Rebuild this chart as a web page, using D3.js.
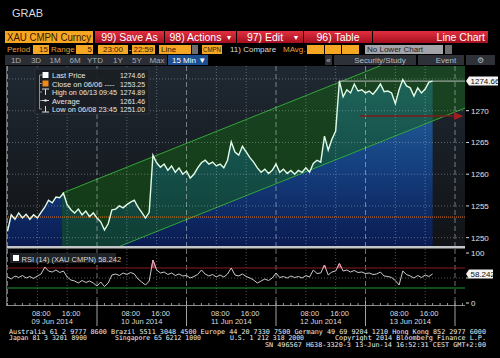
<!DOCTYPE html>
<html>
<head>
<meta charset="utf-8">
<script src="https://cdn.jsdelivr.net/npm/d3@7/dist/d3.min.js"></script>
<style>
  body { margin: 0; background: #000; overflow: hidden; }
  svg { display: block; font-family: "Liberation Sans", Arial, sans-serif; }
  .mono { font-family: "DejaVu Sans Mono", monospace; }
</style>
</head>
<body>
<script>
/***** Données *****/
// un point par heure à partir du 9 juin 00:00
const startTime = new Date(2014, 5, 9, 0, 0);
const prices = [
  1251.0, 1253.6, 1252.9, 1253.9, 1253.1, 1253.7, 1252.9, 1253.6, 1253.1, 1254.0,
  1254.8, 1255.9, 1255.5, 1256.4, 1256.3, 1257.0, 1255.2, 1254.4, 1253.9, 1254.5,
  1253.6, 1254.2, 1253.3, 1253.9, 1253.1, 1252.5, 1251.2, 1252.2, 1254.4, 1254.5,
  1255.0, 1254.7, 1255.2, 1255.6, 1255.9, 1254.8, 1254.0, 1253.1, 1254.0, 1263.0,
  1261.8, 1261.1, 1261.6, 1260.6, 1261.3, 1260.3, 1261.0, 1260.0, 1260.5, 1259.4,
  1260.0, 1261.0, 1261.8, 1262.2, 1261.6, 1261.9, 1261.3, 1261.6, 1261.0, 1262.2,
  1265.1, 1263.5, 1263.0, 1264.4, 1263.5, 1262.6, 1261.9, 1261.0, 1260.3, 1260.8,
  1260.1, 1260.6, 1261.6, 1260.3, 1260.8, 1260.1, 1260.6, 1260.0, 1260.6, 1260.3,
  1261.0, 1260.3, 1261.7, 1262.2, 1261.9, 1266.0, 1263.8, 1265.5, 1266.8, 1274.7,
  1272.2, 1273.3, 1272.8, 1274.2, 1273.1, 1273.3, 1272.8, 1273.1, 1272.6, 1273.3,
  1274.2, 1273.0, 1273.1, 1272.8, 1271.1, 1273.3, 1274.9, 1273.9, 1273.6, 1272.3,
  1273.6, 1272.8, 1273.4, 1274.5, 1274.66
];
const rsiValues = [
  52, 48, 54, 51, 55, 50, 53, 49, 54, 58,
  72, 64, 62, 66, 61, 64, 52, 46, 44, 40,
  45, 41, 44, 40, 34, 42, 33, 40, 56, 58,
  55, 60, 57, 61, 58, 48, 42, 36, 44, 86,
  66, 60, 62, 57, 60, 55, 58, 54, 55, 50,
  53, 57, 66, 58, 54, 57, 52, 56, 52, 58,
  70, 56, 54, 58, 53, 50, 46, 40, 44, 48,
  45, 50, 60, 51, 53, 50, 54, 51, 53, 50,
  55, 52, 66, 59, 60, 76, 56, 62, 64, 79,
  64, 66, 62, 65, 61, 62, 59, 60, 57, 58,
  62, 54, 53, 51, 45, 36, 64, 57, 54, 50,
  55, 51, 56, 53, 58.242
];
const priceTicks = [1250, 1255, 1260, 1265, 1270, 1275];
const rsiTicks = [0, 50, 100];
const rsiBands = [70, 30];
const closePrev = 1253.25;
const lastPrice = 1274.66;
const lastRsi = 58.242;
const dayLabels = ["09 Jun 2014", "10 Jun 2014", "11 Jun 2014", "12 Jun 2014", "13 Jun 2014"];
const hourLabels = ["08:00", "16:00"];
const legendLabels = ["Last Price", "Close on 06/06 ----", "High on 06/13 09:45", "Average", "Low on 06/08 23:45"];
const legendValues = ["1274.66", "1253.25", "1274.89", "1261.46", "1251.00"];
// canal de tendance : bord supérieur (date, valeur), largeur en dollars
const channelUpper = [[new Date(2014, 5, 9, 14, 36), 1257.0], [new Date(2014, 5, 14, 6, 0), 1283.2]];
const channelWidth = 12.0;
const arrowLine = [[new Date(2014, 5, 12, 22, 30), 1269.15], [new Date(2014, 5, 14, 1, 54), 1269.15]];
const trendStart = new Date(2014, 5, 12, 17, 0);
const footerLines = [
  "Australia 61 2 9777 8600 Brazil 5511 3048 4500 Europe 44 20 7330 7500 Germany 49 69 9204 1210 Hong Kong 852 2977 6000",
  "Japan 81 3 3201 8900",
  "Singapore 65 6212 1000",
  "U.S. 1 212 318 2000",
  "Copyright 2014 Bloomberg Finance L.P.",
  "SN 496567 H638-3320-3 13-Jun-14 16:52:31 CEST GMT+2:00"
];

(function (d3) {
  "use strict";

  /***** Configuration *****/
  const plotLeft = 6, plotRight = 465;
  const mainTop = 66, mainBottom = 246;
  const rsiTop = 249, rsiBottom = 305;

  const x = d3.scaleTime()
    .domain([new Date(2014, 5, 9), new Date(2014, 5, 14)])
    .range([7.5, 455]);
  const y = d3.scaleLinear().domain([1250, 1270]).range([237.7, 110.7]);
  const yRsi = d3.scaleLinear().domain([0, 100]).range([303, 253]);

  const series = prices.map((v, i) => ({ t: d3.timeHour.offset(startTime, i), v: v }));
  const rsiSeries = rsiValues.map((v, i) => ({ t: d3.timeHour.offset(startTime, i), v: v }));

  const svg = d3.select("body").append("svg").attr("width", 500).attr("height", 358);
  const defs = svg.append("defs");

  function linGrad(id, y1, y2, stops) {
    const g = defs.append("linearGradient").attr("id", id)
      .attr("gradientUnits", "userSpaceOnUse")
      .attr("x1", 0).attr("x2", 0).attr("y1", y1).attr("y2", y2);
    stops.forEach(s => g.append("stop").attr("offset", s[0]).attr("stop-color", s[1]));
  }
  linGrad("bgGrad", mainTop, mainBottom, [[0, "#1f2832"], [1, "#111316"]]);
  linGrad("areaGrad", mainTop, mainBottom, [[0, "#2b6da2"], [0.55, "#154080"], [1, "#0a1b52"]]);
  linGrad("btnGrad", 31, 43, [[0, "#e2303f"], [1, "#a50f1f"]]);

  defs.append("clipPath").attr("id", "clipMain").append("rect")
    .attr("x", plotLeft).attr("y", mainTop)
    .attr("width", plotRight - plotLeft).attr("height", mainBottom - mainTop);
  defs.append("clipPath").attr("id", "clipRsi").append("rect")
    .attr("x", plotLeft).attr("y", rsiTop)
    .attr("width", plotRight - plotLeft).attr("height", rsiBottom - rsiTop);
  defs.append("clipPath").attr("id", "clipRsiHigh").append("rect")
    .attr("x", plotLeft).attr("y", rsiTop)
    .attr("width", plotRight - plotLeft).attr("height", yRsi(70) - rsiTop);

  defs.append("marker").attr("id", "arrowHead")
    .attr("viewBox", "0 0 8 8").attr("refX", 7).attr("refY", 4)
    .attr("markerWidth", 6).attr("markerHeight", 6).attr("orient", "auto")
    .append("path").attr("d", "M0,0.5 L8,4 L0,7.5 Z").attr("fill", "#a02020");

  // texte comprimé si trop large (police Bloomberg plus étroite)
  function fit(sel, maxW) {
    const w = sel.node().getComputedTextLength();
    if (w > maxW) sel.attr("textLength", maxW).attr("lengthAdjust", "spacingAndGlyphs");
    return sel;
  }

  /***** En-tête *****/
  svg.append("text").attr("x", 12).attr("y", 17).attr("font-size", 11)
    .attr("fill", "#d8d8d8").text("GRAB");

  svg.append("rect").attr("x", 5).attr("y", 31).attr("width", 88).attr("height", 12).attr("fill", "#f5a623");
  fit(svg.append("text").attr("x", 7).attr("y", 41).attr("font-size", 10)
    .attr("fill", "#3a1800").text("XAU CMPN Curncy"), 84);

  const buttons = [
    { x: 95, w: 69, label: "99) Save As" },
    { x: 165, w: 71, label: "98) Actions", arrow: true },
    { x: 237, w: 66, label: "97) Edit", arrow: true },
    { x: 304, w: 68, label: "96) Table" },
    { x: 373, w: 115, label: "Line Chart", right: true }
  ];
  buttons.forEach(b => {
    svg.append("rect").attr("x", b.x).attr("y", 31).attr("width", b.w).attr("height", 12)
      .attr("fill", "url(#btnGrad)");
    svg.append("text")
      .attr("x", b.right ? b.x + b.w - 3 : b.x + b.w / 2 - (b.arrow ? 5 : 0))
      .attr("y", 40.5).attr("font-size", 10.5).attr("fill", "#fff")
      .attr("text-anchor", b.right ? "end" : "middle").text(b.label);
    if (b.arrow) {
      svg.append("text").attr("x", b.x + b.w - 7).attr("y", 40).attr("font-size", 7)
        .attr("fill", "#fff").attr("text-anchor", "middle").text("▼");
    }
  });

  // ligne des paramètres
  const params = [
    { kind: "label", x: 7, text: "Period" },
    { kind: "box", x: 33, w: 16, text: "15", align: "end" },
    { kind: "label", x: 51, text: "Range" },
    { kind: "box", x: 76, w: 17, text: "5", align: "end" },
    { kind: "box", x: 98, w: 30, text: "23:00", align: "middle" },
    { kind: "white", x: 129, text: "-" },
    { kind: "box", x: 132, w: 23, text: "22:59", align: "middle" },
    { kind: "box", x: 159, w: 32, text: "Line", align: "start" },
    { kind: "drop", x: 192, w: 6 },
    { kind: "box", x: 202, w: 20, text: "CMPN", align: "middle" },
    { kind: "white", x: 230, text: "11) Compare" },
    { kind: "label", x: 283, text: "MAvg." },
    { kind: "box", x: 307, w: 17, text: "" },
    { kind: "box", x: 325, w: 16, text: "" },
    { kind: "box", x: 342, w: 17, text: "" },
    { kind: "gray", x: 365, w: 78, text: "No Lower Chart" },
    { kind: "drop", x: 445, w: 7 }
  ];
  params.forEach(p => {
    const ty = 52;
    if (p.kind === "label" || p.kind === "white") {
      svg.append("text").attr("x", p.x).attr("y", ty).attr("font-size", 8)
        .attr("fill", p.kind === "label" ? "#e9a03a" : "#dcdcdc").text(p.text);
    } else if (p.kind === "drop") {
      svg.append("rect").attr("x", p.x).attr("y", 45).attr("width", p.w).attr("height", 9).attr("fill", "#6e6e6e");
    } else {
      svg.append("rect").attr("x", p.x).attr("y", 45).attr("width", p.w).attr("height", 9)
        .attr("fill", p.kind === "gray" ? "#a2a4aa" : "#f5a623");
      const tx = p.kind === "gray" ? p.x + 2
        : p.align === "end" ? p.x + p.w - 1 : p.align === "middle" ? p.x + p.w / 2 : p.x + 2;
      const t = svg.append("text").attr("x", tx).attr("y", ty).attr("font-size", 8)
        .attr("text-anchor", p.kind === "gray" ? "start" : p.align)
        .attr("fill", p.kind === "gray" ? "#222" : "#3a1800").text(p.text);
      if (p.text) fit(t, p.w - 2);
    }
  });

  // onglets de période
  const tabs = [["1D", 16], ["3D", 36], ["1M", 55], ["6M", 75], ["YTD", 95], ["1Y", 118], ["5Y", 137], ["Max", 157]];
  svg.append("rect").attr("x", 5).attr("y", 55).attr("width", 162).attr("height", 10).attr("fill", "#2a2e34");
  tabs.forEach(t => {
    svg.append("text").attr("x", t[1]).attr("y", 63).attr("font-size", 8)
      .attr("text-anchor", "middle").attr("fill", "#a8acb2").text(t[0]);
  });
  svg.append("rect").attr("x", 168).attr("y", 55).attr("width", 40).attr("height", 10).attr("fill", "#1d4e8f");
  svg.append("text").attr("x", 172).attr("y", 63).attr("font-size", 8).attr("fill", "#fff").text("15 Min ▼");

  const tools = [
    { x: 325, w: 7, text: "«" },
    { x: 334, w: 82, text: "Security/Study", icon: true },
    { x: 418, w: 46, text: "Event", icon: true },
    { x: 466, w: 29, text: "⚙" }
  ];
  tools.forEach(t => {
    svg.append("rect").attr("x", t.x).attr("y", 55).attr("width", t.w).attr("height", 10).attr("fill", "#2e3238");
    svg.append("text").attr("x", t.x + t.w / 2 + (t.icon ? 5 : 0)).attr("y", 63).attr("font-size", 8)
      .attr("text-anchor", "middle").attr("fill", "#b8bcc2").text(t.text);
  });

  /***** Graphique principal *****/
  const main = svg.append("g").attr("clip-path", "url(#clipMain)");
  main.append("rect").attr("x", plotLeft).attr("y", mainTop)
    .attr("width", plotRight - plotLeft).attr("height", mainBottom - mainTop)
    .attr("fill", "url(#bgGrad)");

  const area = d3.area().x(d => x(d.t)).y0(mainBottom).y1(d => y(d.v));
  const line = d3.line().x(d => x(d.t)).y(d => y(d.v));

  main.append("path").datum(series).attr("d", area).attr("fill", "url(#areaGrad)");

  // canal de tendance
  const up = channelUpper.map(p => [x(p[0]), y(p[1])]);
  const lo = channelUpper.map(p => [x(p[0]), y(p[1] - channelWidth)]);
  main.append("path")
    .attr("d", d3.line()([up[0], up[1], lo[1], lo[0]]) + "Z")
    .attr("fill", "rgba(20,95,20,0.5)");
  [up, lo].forEach(l => {
    main.append("path").attr("d", d3.line()(l))
      .attr("stroke", "#33a63a").attr("stroke-width", 1).attr("fill", "none");
  });

  // grille
  const gridTimes = d3.timeHour.every(8).range(new Date(2014, 5, 9), new Date(2014, 5, 14, 1));
  function vGrid(g, top, bottom) {
    g.selectAll(null).data(gridTimes).join("line")
      .attr("x1", d => x(d)).attr("x2", d => x(d))
      .attr("y1", top).attr("y2", bottom)
      .attr("stroke", d => d.getHours() === 0 ? "rgba(200,205,210,0.55)" : "rgba(200,205,210,0.4)")
      .attr("stroke-dasharray", d => d.getHours() === 0 ? "5,3" : "1,2");
  }
  vGrid(main, mainTop, mainBottom);
  main.selectAll(null).data(priceTicks).join("line")
    .attr("x1", plotLeft).attr("x2", plotRight)
    .attr("y1", d => y(d)).attr("y2", d => y(d))
    .attr("stroke", "rgba(200,205,210,0.4)").attr("stroke-dasharray", "1,2");

  // clôture précédente
  main.append("line").attr("x1", plotLeft).attr("x2", plotRight)
    .attr("y1", y(closePrev)).attr("y2", y(closePrev))
    .attr("stroke", "#e8761e").attr("stroke-width", 1).attr("stroke-dasharray", "1,1");

  // ligne horizontale sur le dernier cours
  main.append("line").attr("x1", x(trendStart)).attr("x2", plotRight)
    .attr("y1", y(lastPrice)).attr("y2", y(lastPrice))
    .attr("stroke", "#b8bcbc").attr("stroke-width", 1);

  main.append("path").datum(series).attr("d", line)
    .attr("fill", "none").attr("stroke", "#e2fce8").attr("stroke-width", 1.4);

  main.append("line")
    .attr("x1", x(arrowLine[0][0])).attr("y1", y(arrowLine[0][1]))
    .attr("x2", x(arrowLine[1][0])).attr("y2", y(arrowLine[1][1]))
    .attr("stroke", "#7e1a1a").attr("stroke-width", 1.5).attr("marker-end", "url(#arrowHead)");

  // légende
  const lg = svg.append("g");
  lg.append("rect").attr("x", 35).attr("y", 69).attr("width", 114).attr("height", 45)
    .attr("fill", "#1a1e24").attr("fill-opacity", 0.92).attr("stroke", "#2c3138");
  const rowY = i => 78 + i * 8.5;
  lg.append("line").attr("x1", 39.5).attr("x2", 39.5).attr("y1", 75).attr("y2", rowY(4) - 3)
    .attr("stroke", "#8a8e94");
  legendLabels.forEach((lab, i) => {
    const cy = rowY(i) - 3;
    lg.append("line").attr("x1", 39.5).attr("x2", 42).attr("y1", cy).attr("y2", cy).attr("stroke", "#8a8e94");
    if (i < 2) {
      lg.append("rect").attr("x", 42.5).attr("y", cy - 3).attr("width", 6).attr("height", 6)
        .attr("fill", i === 0 ? "#ffffff" : "#f08a1e");
    } else if (i === 2) {
      lg.append("path").attr("d", `M42,${cy - 3}H49M45.5,${cy - 3}V${cy + 3}`).attr("stroke", "#ddd");
    } else if (i === 3) {
      lg.append("path").attr("d", `M42,${cy}H49`).attr("stroke", "#ddd");
      lg.append("circle").attr("cx", 45.5).attr("cy", cy).attr("r", 1.3).attr("fill", "#ddd");
    } else {
      lg.append("path").attr("d", `M42,${cy + 3}H49M45.5,${cy - 3}V${cy + 3}`).attr("stroke", "#ddd");
    }
    fit(lg.append("text").attr("x", 52).attr("y", rowY(i)).attr("font-size", 7.5)
      .attr("fill", "#e6e6e6").text(lab), 65);
    fit(lg.append("text").attr("x", 145).attr("y", rowY(i)).attr("font-size", 7.5)
      .attr("text-anchor", "end").attr("fill", "#e6e6e6").text(legendValues[i]), 25);
  });

  // séparateur
  svg.append("rect").attr("x", plotLeft).attr("y", mainBottom).attr("width", plotRight - plotLeft)
    .attr("height", 2.5).attr("fill", "#c4c6c8");

  /***** RSI *****/
  const rsi = svg.append("g").attr("clip-path", "url(#clipRsi)");
  vGrid(rsi, rsiTop, rsiBottom);
  rsi.append("line").attr("x1", plotLeft).attr("x2", plotRight)
    .attr("y1", yRsi(50)).attr("y2", yRsi(50))
    .attr("stroke", "rgba(200,205,210,0.4)").attr("stroke-dasharray", "1,2");
  rsi.selectAll(null).data(rsiBands).join("line")
    .attr("x1", plotLeft).attr("x2", plotRight)
    .attr("y1", d => yRsi(d)).attr("y2", d => yRsi(d))
    .attr("stroke", d => d > 50 ? "#8c1c22" : "#1f9a35").attr("stroke-width", 1.2);

  const rsiLine = d3.line().x(d => x(d.t)).y(d => yRsi(d.v));
  rsi.append("path").datum(rsiSeries).attr("d", rsiLine)
    .attr("fill", "none").attr("stroke", "#c8cacc").attr("stroke-width", 1);
  const high = rsi.append("g").attr("clip-path", "url(#clipRsiHigh)");
  high.append("path").datum(rsiSeries)
    .attr("d", d3.area().x(d => x(d.t)).y0(yRsi(70)).y1(d => yRsi(d.v)))
    .attr("fill", "#c0506a").attr("fill-opacity", 0.6);
  high.append("path").datum(rsiSeries).attr("d", rsiLine)
    .attr("fill", "none").attr("stroke", "#f0a0b0").attr("stroke-width", 1);

  svg.append("rect").attr("x", 10).attr("y", 253).attr("width", 106).attr("height", 10).attr("fill", "#1f2226");
  svg.append("rect").attr("x", 13).attr("y", 255).attr("width", 6).attr("height", 6).attr("fill", "#fff");
  svg.append("text").attr("x", 21.5).attr("y", 261.5).attr("font-size", 7.5).attr("fill", "#d8d8d8")
    .text("RSI (14) (XAU CMPN) " + lastRsi.toFixed(3));

  /***** Axes *****/
  svg.append("line").attr("x1", plotLeft + 0.5).attr("x2", plotLeft + 0.5)
    .attr("y1", mainTop).attr("y2", rsiBottom).attr("stroke", "#6a6e72");

  const axisR = svg.append("g").attr("fill", "#e2e2e2").attr("font-size", 8);
  priceTicks.filter(t => Math.abs(t - lastPrice) > 2).forEach(t => {
    axisR.append("line").attr("x1", plotRight + 1).attr("x2", plotRight + 4)
      .attr("y1", y(t)).attr("y2", y(t)).attr("stroke", "#ddd");
    axisR.append("text").attr("x", plotRight + 6).attr("y", y(t) + 3).text(t);
  });
  // l'étiquette 50 est masquée par la valeur courante du RSI
  rsiTicks.forEach(t => {
    axisR.append("line").attr("x1", plotRight + 1).attr("x2", plotRight + 4)
      .attr("y1", yRsi(t)).attr("y2", yRsi(t)).attr("stroke", "#ddd");
    if (Math.abs(t - lastRsi) > 10) {
      axisR.append("text").attr("x", plotRight + 6).attr("y", yRsi(t) + 3).text(t);
    }
  });

  function valueBox(yy, w, label) {
    axisR.append("path")
      .attr("d", `M${plotRight + 1},${yy}L${plotRight + 4},${yy - 4.5}H${plotRight + 4 + w}V${yy + 4.5}H${plotRight + 4}Z`)
      .attr("fill", "#f4f4f4");
    axisR.append("text").attr("x", plotRight + 5.5).attr("y", yy + 3).attr("fill", "#111").text(label);
  }
  valueBox(y(lastPrice), 29, lastPrice.toFixed(2));
  valueBox(yRsi(lastRsi), 24, lastRsi.toFixed(3));

  // axe du temps
  const axisB = svg.append("g");
  axisB.append("line").attr("x1", plotLeft).attr("x2", plotRight)
    .attr("y1", rsiBottom + 0.5).attr("y2", rsiBottom + 0.5).attr("stroke", "#8a8a8a");
  const small = d3.timeHour.every(2).range(new Date(2014, 5, 9), new Date(2014, 5, 14, 3));
  axisB.selectAll(null).data(small.filter(d => x(d) <= plotRight)).join("line")
    .attr("x1", d => x(d)).attr("x2", d => x(d))
    .attr("y1", rsiBottom - 2).attr("y2", rsiBottom + 1)
    .attr("stroke", "#9a9a9a");
  const days = d3.timeDay.range(new Date(2014, 5, 9), new Date(2014, 5, 14));
  axisB.selectAll(null).data(days.slice(1).concat([new Date(2014, 5, 14)])).join("line")
    .attr("x1", d => x(d)).attr("x2", d => x(d))
    .attr("y1", rsiBottom - 4).attr("y2", 326).attr("stroke", "#a0a0a0");
  days.forEach((d, i) => {
    hourLabels.forEach((h, j) => {
      axisB.append("text").attr("x", x(d3.timeHour.offset(d, 8 * (j + 1))) + 4).attr("y", 315.5)
        .attr("font-size", 7.5).attr("text-anchor", "middle").attr("fill", "#dcdcdc").text(h);
    });
    axisB.append("text").attr("x", x(d3.timeHour.offset(d, 12))).attr("y", 324)
      .attr("font-size", 7.5).attr("text-anchor", "middle").attr("fill", "#dcdcdc").text(dayLabels[i]);
  });

  /***** Pied de page *****/
  const foot = svg.append("g").attr("class", "mono").attr("font-size", 6.7).attr("fill", "#f0f0f0");
  const footPos = [[9, 333.5, 477], [9, 340, 78], [115, 340, 86], [230, 340, 74], [335, 340, 151], [265, 346.5, 221]];
  footerLines.forEach((t, i) => {
    foot.append("text").attr("x", footPos[i][0]).attr("y", footPos[i][1])
      .attr("textLength", footPos[i][2]).attr("lengthAdjust", "spacingAndGlyphs").text(t);
  });
})(d3);
</script>
</body>
</html>
